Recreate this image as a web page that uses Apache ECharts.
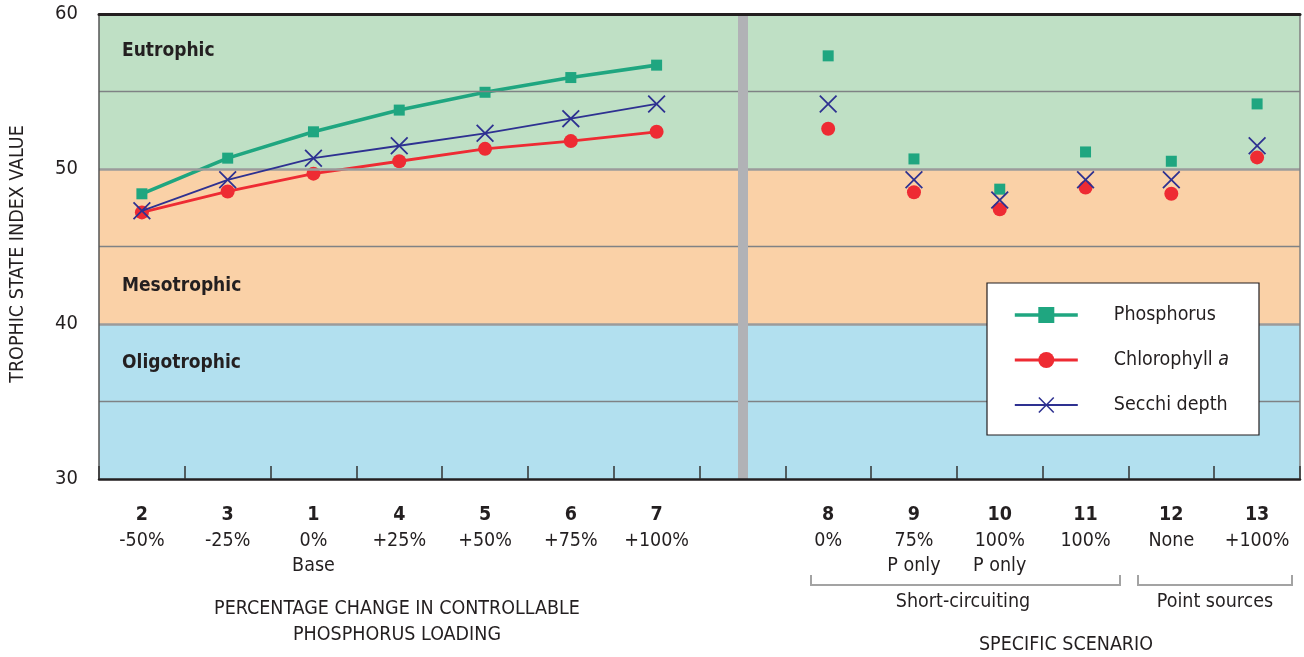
<!DOCTYPE html>
<html>
<head>
<meta charset="utf-8">
<script src="https://cdn.jsdelivr.net/npm/echarts@6/dist/echarts.min.js"></script>
<style>
html,body{margin:0;padding:0;background:#fff;}
#chart{width:1304px;height:657px;}
</style>
</head>
<body>
<div id="chart"></div>
<script>
// ---- Data ----
const caseNumbers = ['2','3','1','4','5','6','7','','8','9','10','11','12','13'];
const caseDescriptions = [
  ['-50%'], ['-25%'], ['0%','Base'], ['+25%'], ['+50%'], ['+75%'], ['+100%'],
  [],
  ['0%'], ['75%','P only'], ['100%','P only'], ['100%'], ['None'], ['+100%']
];
const yTicks = [30, 40, 50, 60];

// Percentage-change runs (cases 2,3,1,4,5,6,7)
const phosphorusLoading   = [48.4, 50.7, 52.4, 53.8, 54.95, 55.9, 56.7];
const chlorophyllLoading  = [47.2, 48.55, 49.7, 50.5, 51.3, 51.8, 52.4];
const secchiLoading       = [47.3, 49.3, 50.7, 51.5, 52.3, 53.25, 54.2];

// Specific scenarios (cases 8..13)
const phosphorusScenario  = [57.3, 50.65, 48.7, 51.1, 50.5, 54.2];
const chlorophyllScenario = [52.6, 48.5, 47.4, 48.8, 48.4, 50.75];
const secchiScenario      = [54.2, 49.3, 48.0, 49.3, 49.3, 51.5];

const seriesNames = ['Phosphorus', 'Chlorophyll a', 'Secchi depth'];

// ---- Build ----
const nLoad = phosphorusLoading.length;       // 7
const gapIndex = nLoad;                       // 7
const nCat = caseNumbers.length;              // 14
function loadData(arr){ const d = arr.slice(); while(d.length < nCat) d.push('-'); return d; }
function scenData(arr){ const d = []; for(let i=0;i<=gapIndex;i++) d.push('-'); return d.concat(arr); }

const FONT = "'Liberation Sans Narrow','Arial Narrow','DejaVu Sans Condensed','Liberation Sans',sans-serif";
const TXT = '#231f20';
const FS = 19.5;
const cPhos = '#1fa680', cChl = '#ee2b33', cSec = '#2e3191';
const xPath = 'path://M0,0.7 L0.7,0 L5,4.3 L9.3,0 L10,0.7 L5.7,5 L10,9.3 L9.3,10 L5,5.7 L0.7,10 L0,9.3 L4.3,5 Z';

const chart = echarts.init(document.getElementById('chart'), null, {renderer:'canvas'});

const option = {
  animation: false,
  textStyle: { fontFamily: FONT, color: TXT },
  grid: { left: 99, right: 4, top: 14, bottom: 178, containLabel: false },
  legend: {
    data: [
      { name: seriesNames[0], lineStyle: { width: 3.6, color: cPhos } },
      { name: seriesNames[1], lineStyle: { width: 3, color: cChl } },
      { name: seriesNames[2], lineStyle: { width: 2, color: cSec } }
    ],
    orient: 'vertical',
    left: 987, top: 283,
    padding: [22, 30, 20, 26],
    itemWidth: 63, itemHeight: 20, itemGap: 25,
    backgroundColor: '#ffffff',
    borderColor: TXT, borderWidth: 1.2, borderRadius: 0,
    z: 10,
    selectedMode: false,
    formatter: function(name){ return name === 'Chlorophyll a' ? 'Chlorophyll {i|a}' : name; },
    textStyle: {
      fontFamily: FONT, fontSize: FS, color: TXT, padding: [0,0,0,31],
      rich: { i: { fontFamily: FONT, fontSize: FS, fontStyle: 'italic', color: TXT } }
    }
  },
  xAxis: [{
    type: 'category',
    data: caseNumbers,
    boundaryGap: true,
    z: 5,
    axisLine: { show: true, lineStyle: { color: TXT, width: 2.5 } },
    axisTick: { show: true, inside: true, length: 13, lineStyle: { color: '#333', width: 1.5 } },
    splitLine: { show: false },
    axisLabel: {
      interval: 0, margin: 22,
      formatter: function(v, i){
        if (!v) return '';
        const lines = ['{b|' + v + '}'].concat(caseDescriptions[i].map(s => '{t|' + s + '}'));
        return lines.join('\n');
      },
      rich: {
        b: { fontFamily: FONT, fontWeight: 'bold', fontSize: FS, lineHeight: 27, color: TXT },
        t: { fontFamily: FONT, fontSize: FS, lineHeight: 25, color: TXT }
      }
    }
  }, {
    type: 'category', position: 'top', data: caseNumbers, z: 5,
    axisLine: { show: true, lineStyle: { color: TXT, width: 3 } },
    axisTick: { show: false }, axisLabel: { show: false }, splitLine: { show: false }
  }],
  yAxis: [{
    type: 'value', min: 30, max: 60, interval: 10, z: 5,
    axisLine: { show: true, lineStyle: { color: '#555', width: 1.5 } },
    axisTick: { show: false },
    splitLine: { show: false },
    axisLabel: { margin: 21, fontFamily: FONT, fontSize: 20, color: TXT,
      formatter: function(v){ return yTicks.indexOf(v) >= 0 ? String(v) : ''; } }
  }, {
    type: 'value', min: 30, max: 60, interval: 10, position: 'right', z: 5,
    axisLine: { show: true, lineStyle: { color: '#808080', width: 1.5 } },
    axisTick: { show: false }, axisLabel: { show: false }, splitLine: { show: false }
  }],
  graphic: [
    { type: 'text', z: 20, x: 18, y: 254, rotation: Math.PI / 2,
      style: { text: 'TROPHIC STATE INDEX VALUE', font: '19.5px ' + FONT, fill: TXT, align: 'center', verticalAlign: 'middle' } },
    { type: 'text', left: 122, top: 42, z: 20, style: { text: 'Eutrophic', font: 'bold 19px ' + FONT, fill: TXT } },
    { type: 'text', left: 122, top: 277, z: 20, style: { text: 'Mesotrophic', font: 'bold 19px ' + FONT, fill: TXT } },
    { type: 'text', left: 122, top: 354, z: 20, style: { text: 'Oligotrophic', font: 'bold 19px ' + FONT, fill: TXT } },
    { type: 'text', z: 20, x: 397, y: 609, style: { text: 'PERCENTAGE CHANGE IN CONTROLLABLE', font: FS + 'px ' + FONT, fill: TXT, align: 'center', verticalAlign: 'middle' } },
    { type: 'text', z: 20, x: 397, y: 635, style: { text: 'PHOSPHORUS LOADING', font: FS + 'px ' + FONT, fill: TXT, align: 'center', verticalAlign: 'middle' } },
    { type: 'text', z: 20, x: 1066, y: 645, style: { text: 'SPECIFIC SCENARIO', font: FS + 'px ' + FONT, fill: TXT, align: 'center', verticalAlign: 'middle' } },
    { type: 'text', z: 20, x: 963, y: 602, style: { text: 'Short-circuiting', font: FS + 'px ' + FONT, fill: TXT, align: 'center', verticalAlign: 'middle' } },
    { type: 'text', z: 20, x: 1215, y: 602, style: { text: 'Point sources', font: FS + 'px ' + FONT, fill: TXT, align: 'center', verticalAlign: 'middle' } },
    { type: 'polyline', z: 20, shape: { points: [[811,575],[811,585],[1120,585],[1120,575]] }, style: { stroke: '#a3a3a3', lineWidth: 2, fill: null } },
    { type: 'polyline', z: 20, shape: { points: [[1138,575],[1138,585],[1292,585],[1292,575]] }, style: { stroke: '#a3a3a3', lineWidth: 2, fill: null } }
  ],
  series: [
    { // trophic bands
      type: 'line', data: [], silent: true, z: 1,
      markArea: {
        silent: true,
        data: [
          [{ yAxis: 50, itemStyle: { color: '#bfe0c5' } }, { yAxis: 60 }],
          [{ yAxis: 40, itemStyle: { color: '#fad1a7' } }, { yAxis: 50 }],
          [{ yAxis: 30, itemStyle: { color: '#b2e0ef' } }, { yAxis: 40 }]
        ]
      }
    },
    { // grid lines and divider
      type: 'line', data: [], silent: true, z: 2,
      markLine: {
        silent: true, symbol: 'none', label: { show: false },
        data: [
          { yAxis: 55, lineStyle: { color: '#7f8285', width: 1.3, type: 'solid' } },
          { yAxis: 45, lineStyle: { color: '#7f8285', width: 1.3, type: 'solid' } },
          { yAxis: 35, lineStyle: { color: '#7f8285', width: 1.3, type: 'solid' } },
          { yAxis: 50, lineStyle: { color: '#9b9b9b', width: 2.5, type: 'solid' } },
          { yAxis: 40, lineStyle: { color: '#9b9b9b', width: 2.5, type: 'solid' } },
          { xAxis: gapIndex, lineStyle: { color: '#b1b2b6', width: 10, type: 'solid' } }
        ]
      }
    },
    {
      name: seriesNames[1], type: 'line', z: 3, data: loadData(chlorophyllLoading),
      symbol: 'circle', symbolSize: 14, showAllSymbol: true,
      itemStyle: { color: cChl }, lineStyle: { color: cChl, width: 2.8 }
    },
    {
      name: seriesNames[1], type: 'scatter', z: 3, data: scenData(chlorophyllScenario),
      symbol: 'circle', symbolSize: 14, itemStyle: { color: cChl, opacity: 1 }
    },
    {
      name: seriesNames[0], type: 'line', z: 4, data: loadData(phosphorusLoading),
      symbol: 'rect', symbolSize: 11, showAllSymbol: true,
      itemStyle: { color: cPhos }, lineStyle: { color: cPhos, width: 3.6 }
    },
    {
      name: seriesNames[0], type: 'scatter', z: 4, data: scenData(phosphorusScenario),
      symbol: 'rect', symbolSize: 11, itemStyle: { color: cPhos, opacity: 1 }
    },
    {
      name: seriesNames[2], type: 'line', z: 5, data: loadData(secchiLoading),
      symbol: xPath, symbolSize: 18, showAllSymbol: true,
      itemStyle: { color: cSec }, lineStyle: { color: cSec, width: 1.8 }
    },
    {
      name: seriesNames[2], type: 'scatter', z: 5, data: scenData(secchiScenario),
      symbol: xPath, symbolSize: 18, itemStyle: { color: cSec, opacity: 1 }
    }
  ]
};
chart.setOption(option);
</script>
</body>
</html>
